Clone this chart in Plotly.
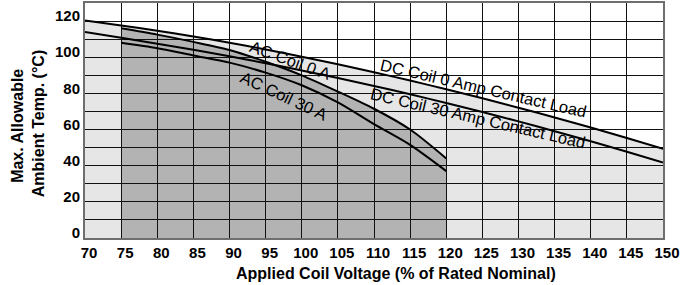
import plotly.graph_objects as go

# ---- data ----
voltage_dc = [70, 75, 80, 85, 90, 95, 100, 105, 110, 115, 120, 125, 130, 135, 140, 145, 150]
dc_0a = [120.3, 117.6, 114.7, 111.5, 108.0, 104.3, 100.3, 96.1, 91.7, 87.1, 82.3, 77.3, 72.1, 66.7, 61.1, 55.3, 49.3]
dc_30a = [114, 110.8, 107.5, 104.1, 100.5, 96.7, 92.7, 88.5, 84.1, 79.5, 74.7, 69.7, 64.5, 59.1, 53.5, 47.7, 41.7]

voltage_ac = [75, 80, 85, 90, 95, 100, 105, 110, 115, 120]
ac_0a = [116, 112.5, 108.5, 104, 97.5, 90, 81, 71.5, 60, 44]
ac_30a = [108, 105, 101, 97, 91.5, 84.5, 75, 63, 51.5, 37]

x_ticks = list(range(70, 151, 5))
y_ticks = [0, 20, 40, 60, 80, 100, 120]

labels = {
    "AC Coil 0 A": (98.4, 98.5, 20),
    "AC Coil 30 A": (97.6, 78.5, 25),
    "DC Coil 0 Amp Contact Load": (125.1, 83.0, 13),
    "DC Coil 30 Amp Contact Load": (124.4, 66.4, 13),
}
x_title = "Applied Coil Voltage (% of Rated Nominal)"
y_title_lines = ["Max. Allowable", "Ambient Temp. (°C)"]

LIGHT = "#e6e6e6"
DARK = "#b3b3b3"
FONT = "Liberation Sans, Arial, sans-serif"


def area_path(xs, ys):
    pts = [f"M {xs[0]},0"] + [f"L {x},{y}" for x, y in zip(xs, ys)] + [f"L {xs[-1]},0 Z"]
    return " ".join(pts)


fig = go.Figure()

shapes = [
    dict(type="path", path=area_path(voltage_dc, dc_0a), xref="x", yref="y",
         fillcolor=LIGHT, line=dict(width=0), layer="below"),
    dict(type="path", path=area_path(voltage_ac, ac_0a), xref="x", yref="y",
         fillcolor=DARK, line=dict(width=0), layer="below"),
]

for xs, ys in [(voltage_dc, dc_0a), (voltage_dc, dc_30a), (voltage_ac, ac_0a), (voltage_ac, ac_30a)]:
    fig.add_trace(go.Scatter(x=xs, y=ys, mode="lines",
                             line=dict(color="black", width=2, shape="spline", smoothing=0.8),
                             hoverinfo="skip", showlegend=False))

annotations = []
for text, (x, y, ang) in labels.items():
    annotations.append(dict(x=x, y=y, xref="x", yref="y", text=text, showarrow=False,
                            textangle=ang, font=dict(family=FONT, size=16.5, color="black")))

# axis titles (paper coords relative to plot area: 85..662 px wide, 3..238 px tall)
annotations.append(dict(x=0.538, y=-0.149, xref="paper", yref="paper", text=x_title,
                        showarrow=False, xanchor="center", yanchor="middle",
                        font=dict(family=FONT, size=16, weight="bold", color="black")))
annotations.append(dict(x=-0.116, y=0.477, xref="paper", yref="paper", text=y_title_lines[0],
                        showarrow=False, xanchor="center", yanchor="middle", textangle=-90,
                        font=dict(family=FONT, size=16, weight="bold", color="black")))
annotations.append(dict(x=-0.081, y=0.485, xref="paper", yref="paper", text=y_title_lines[1],
                        showarrow=False, xanchor="center", yanchor="middle", textangle=-90,
                        font=dict(family=FONT, size=16, weight="bold", color="black")))

fig.update_layout(
    width=689, height=285,
    margin=dict(l=85, r=26, t=3, b=47),
    paper_bgcolor="white", plot_bgcolor="white",
    shapes=shapes, annotations=annotations,
    showlegend=False,
    font=dict(family=FONT, color="black"),
)

fig.update_xaxes(
    range=[70, 150], tickvals=x_ticks, ticktext=[str(v) for v in x_ticks],
    showgrid=True, gridcolor="#111111", gridwidth=1,
    showline=True, linecolor="#6e6e6e", linewidth=2, mirror=True,
    ticks="", ticklabelshift=4, automargin=False,
    tickfont=dict(family=FONT, size=15, weight="bold", color="black"),
    zeroline=False,
)
fig.update_yaxes(
    range=[0, 130], tickvals=y_ticks, ticktext=[str(v) for v in y_ticks],
    showgrid=True, gridcolor="#111111", gridwidth=1,
    minor=dict(dtick=10, tick0=0, showgrid=True, gridcolor="#111111", gridwidth=1),
    showline=True, linecolor="#6e6e6e", linewidth=2, mirror=True,
    ticks="", ticklabelshift=-5, ticklabelstandoff=0, automargin=False,
    tickfont=dict(family=FONT, size=15, weight="bold", color="black"),
    zeroline=False,
)

fig.write_html("out.html", config={"displayModeBar": False},
               post_script="document.body.style.margin='0';document.body.style.overflow='hidden';")
